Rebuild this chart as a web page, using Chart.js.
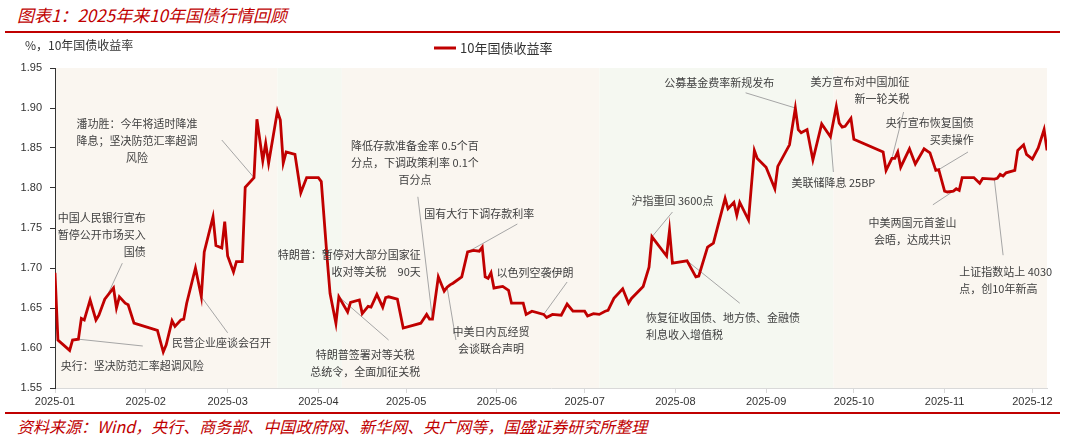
<!DOCTYPE html>
<html>
<head>
<meta charset="utf-8">
<script src="https://cdn.jsdelivr.net/npm/chart.js@4.4.1/dist/chart.umd.min.js"></script>
<style>
    body { margin: 0; background: #fff; width: 1065px; height: 439px; overflow: hidden; position: relative; font-family: "Noto Sans CJK SC", sans-serif; }
    .title { position: absolute; left: 17px; top: 2px; font-size: 17px; font-style: italic; color: #C00000; }
    .rule { position: absolute; left: 5px; width: 1055px; height: 2px; background: #C00000; }
    .source { position: absolute; left: 17px; top: 414px; font-size: 16px; font-style: italic; color: #C00000; }
    .chart-box { position: absolute; left: 0; top: 34px; width: 1065px; height: 376px; }
</style>
</head>
<body>
<div class="title">图表1：2025年来10年国债行情回顾</div>
<div class="rule" style="top: 31px;"></div>
<div class="chart-box"><canvas id="yieldChart"></canvas></div>
<div class="rule" style="top: 412px;"></div>
<div class="source">资料来源：Wind，央行、商务部、中国政府网、新华网、央广网等，国盛证券研究所整理</div>

<script>
// 10年国债收益率 (%)
const dates = [
    '2025-01-01', '2025-01-02', '2025-01-06', '2025-01-07', '2025-01-09', '2025-01-10', '2025-01-11', '2025-01-13',
    '2025-01-15', '2025-01-16', '2025-01-18', '2025-01-21', '2025-01-22', '2025-01-23', '2025-01-25', '2025-01-26',
    '2025-01-28', '2025-02-05', '2025-02-07', '2025-02-08', '2025-02-10', '2025-02-11', '2025-02-13', '2025-02-14',
    '2025-02-15', '2025-02-18', '2025-02-20', '2025-02-21', '2025-02-24', '2025-02-25', '2025-02-27', '2025-02-28',
    '2025-03-01', '2025-03-03', '2025-03-04', '2025-03-06', '2025-03-07', '2025-03-10', '2025-03-11', '2025-03-13',
    '2025-03-14', '2025-03-15', '2025-03-18', '2025-03-19', '2025-03-20', '2025-03-21', '2025-03-24', '2025-03-26',
    '2025-03-28', '2025-04-01', '2025-04-02', '2025-04-04', '2025-04-05', '2025-04-07', '2025-04-08', '2025-04-11',
    '2025-04-12', '2025-04-15', '2025-04-16', '2025-04-18', '2025-04-19', '2025-04-21', '2025-04-23', '2025-04-24',
    '2025-04-25', '2025-04-28', '2025-04-30', '2025-05-06', '2025-05-08', '2025-05-09', '2025-05-10', '2025-05-12',
    '2025-05-14', '2025-05-15', '2025-05-16', '2025-05-17', '2025-05-20', '2025-05-22', '2025-05-24', '2025-05-26',
    '2025-05-27', '2025-05-28', '2025-05-29', '2025-05-30', '2025-05-31', '2025-06-03', '2025-06-05', '2025-06-06',
    '2025-06-10', '2025-06-11', '2025-06-13', '2025-06-17', '2025-06-18', '2025-06-20', '2025-06-23', '2025-06-25',
    '2025-06-27', '2025-07-01', '2025-07-02', '2025-07-04', '2025-07-06', '2025-07-08', '2025-07-09', '2025-07-11',
    '2025-07-14', '2025-07-16', '2025-07-17', '2025-07-21', '2025-07-23', '2025-07-24', '2025-07-29', '2025-07-30',
    '2025-07-31', '2025-08-05', '2025-08-08', '2025-08-09', '2025-08-12', '2025-08-14', '2025-08-18', '2025-08-19',
    '2025-08-21', '2025-08-22', '2025-08-23', '2025-08-26', '2025-08-28', '2025-08-29', '2025-09-01', '2025-09-04',
    '2025-09-05', '2025-09-09', '2025-09-11', '2025-09-12', '2025-09-13', '2025-09-15', '2025-09-17', '2025-09-20',
    '2025-09-23', '2025-09-25', '2025-09-26', '2025-09-27', '2025-09-28', '2025-09-30', '2025-10-01', '2025-10-11',
    '2025-10-12', '2025-10-14', '2025-10-15', '2025-10-16', '2025-10-17', '2025-10-20', '2025-10-22', '2025-10-25',
    '2025-10-27', '2025-10-29', '2025-10-30', '2025-11-01', '2025-11-02', '2025-11-04', '2025-11-05', '2025-11-06',
    '2025-11-07', '2025-11-11', '2025-11-13', '2025-11-14', '2025-11-18', '2025-11-19', '2025-11-20', '2025-11-21',
    '2025-11-22', '2025-11-25', '2025-11-26', '2025-11-28', '2025-11-29', '2025-12-01', '2025-12-03', '2025-12-05',
    '2025-12-06'
];
const yields = [
    1.694, 1.610, 1.597, 1.610, 1.611, 1.637, 1.635, 1.660,
    1.635, 1.641, 1.661, 1.675, 1.650, 1.664, 1.656, 1.654,
    1.631, 1.622, 1.595, 1.604, 1.634, 1.627, 1.635, 1.636,
    1.656, 1.700, 1.664, 1.720, 1.764, 1.728, 1.725, 1.758,
    1.715, 1.695, 1.708, 1.708, 1.801, 1.813, 1.886, 1.834,
    1.856, 1.831, 1.896, 1.885, 1.831, 1.845, 1.842, 1.794,
    1.813, 1.813, 1.808, 1.712, 1.668, 1.631, 1.664, 1.645,
    1.657, 1.660, 1.643, 1.652, 1.651, 1.667, 1.651, 1.663,
    1.664, 1.661, 1.625, 1.631, 1.642, 1.636, 1.636, 1.689,
    1.671, 1.676, 1.679, 1.681, 1.689, 1.720, 1.722, 1.721,
    1.726, 1.689, 1.687, 1.694, 1.675, 1.677, 1.672, 1.656,
    1.656, 1.642, 1.646, 1.642, 1.638, 1.642, 1.641, 1.655,
    1.646, 1.646, 1.640, 1.643, 1.642, 1.646, 1.647, 1.662,
    1.674, 1.656, 1.662, 1.677, 1.701, 1.739, 1.715, 1.747,
    1.706, 1.709, 1.689, 1.690, 1.726, 1.731, 1.787, 1.774,
    1.782, 1.766, 1.782, 1.760, 1.847, 1.837, 1.826, 1.799,
    1.827, 1.854, 1.900, 1.873, 1.869, 1.873, 1.835, 1.880,
    1.864, 1.902, 1.881, 1.876, 1.877, 1.887, 1.861, 1.845,
    1.822, 1.837, 1.837, 1.845, 1.826, 1.849, 1.830, 1.849,
    1.844, 1.822, 1.823, 1.796, 1.795, 1.796, 1.799, 1.797,
    1.813, 1.813, 1.806, 1.812, 1.811, 1.812, 1.817, 1.815,
    1.819, 1.822, 1.847, 1.854, 1.842, 1.836, 1.850, 1.873,
    1.847
];

const monthTicks = ['2025-01-01', '2025-02-01', '2025-03-01', '2025-04-01', '2025-05-01', '2025-06-01',
    '2025-07-01', '2025-08-01', '2025-09-01', '2025-10-01', '2025-11-01', '2025-12-01'];
const tickLabels = ['2025-01', '2025-02', '2025-03', '2025-04', '2025-05', '2025-06',
    '2025-07', '2025-08', '2025-09', '2025-10', '2025-11', '2025-12'];
const yTicks = [1.55, 1.60, 1.65, 1.70, 1.75, 1.80, 1.85, 1.90, 1.95];

// shaded periods: each band starts at the previous edge
const bandEdges = ['2025-03-18', '2025-04-09', '2025-07-06', '2025-09-24'];
const bandColors = ['#FAF6F0', '#F5F8F1', '#FAF6F0', '#F5F8F1', '#FAF6F0'];

const axisStart = '2025-01-01';
const axisEnd = '2025-12-06';

// event notes, placed in data units (date, yield); leader runs from "from" to the series point at "to"
const notes = [
    { lines: ['潘功胜：今年将适时降准', '降息；坚决防范汇率超调', '风险'], at: ['2025-01-29', 1.880], align: 'center', from: ['2025-02-27', 1.860], to: '2025-03-10' },
    { lines: ['中国人民银行宣布', '暂停公开市场买入', '国债'], at: ['2025-02-01', 1.7625], align: 'right', from: ['2025-01-24', 1.706], to: '2025-01-15' },
    { lines: ['央行：坚决防范汇率超调风险'], at: ['2025-01-03', 1.5775], align: 'left', from: ['2025-01-31', 1.6025], to: '2025-01-09' },
    { lines: ['民营企业座谈会召开'], at: ['2025-02-10', 1.606], align: 'left', from: ['2025-03-01', 1.619], to: '2025-02-20' },
    { lines: ['特朗普：暂停对大部分国家征', '收对等关税　90天'], at: ['2025-05-06', 1.716], align: 'right' },
    { lines: ['特朗普签署对等关税', '总统令，全面加征关税'], at: ['2025-04-17', 1.591], align: 'center', from: ['2025-04-25', 1.610], to: '2025-04-08' },
    { lines: ['降低存款准备金率 0.5个百', '分点，下调政策利率 0.1个', '百分点'], at: ['2025-05-04', 1.8525], align: 'center', from: ['2025-05-05', 1.789], to: '2025-05-10' },
    { lines: ['国有大行下调存款利率'], at: ['2025-05-26', 1.7675], align: 'center', from: ['2025-06-08', 1.755], to: '2025-05-22' },
    { lines: ['中美日内瓦经贸', '会谈联合声明'], at: ['2025-05-30', 1.620], align: 'center', from: ['2025-05-18', 1.610], to: '2025-05-15' },
    { lines: ['以色列空袭伊朗'], at: ['2025-06-14', 1.694], align: 'center', from: ['2025-06-25', 1.6825], to: '2025-06-17' },
    { lines: ['沪指重回 3600点'], at: ['2025-07-31', 1.784], align: 'center', from: ['2025-07-31', 1.770], to: '2025-07-24' },
    { lines: ['恢复征收国债、地方债、金融债', '利息收入增值税'], at: ['2025-07-22', 1.6375], align: 'left', from: ['2025-08-23', 1.656], to: '2025-08-05' },
    { lines: ['公募基金费率新规发布'], at: ['2025-08-16', 1.931], align: 'center', from: ['2025-08-25', 1.919], to: '2025-09-11' },
    { lines: ['美联储降息 25BP'], at: ['2025-09-24', 1.806], align: 'center', from: ['2025-09-24', 1.820], to: '2025-09-23' },
    { lines: ['美方宣布对中国加征', '新一轮关税'], at: ['2025-10-20', 1.9325], align: 'right', from: ['2025-10-18', 1.895], to: '2025-10-14' },
    { lines: ['中美两国元首釜山', '会晤，达成共识'], at: ['2025-10-21', 1.756], align: 'center', from: ['2025-10-28', 1.779], to: '2025-11-04' },
    { lines: ['央行宣布恢复国债', '买卖操作'], at: ['2025-11-11', 1.881], align: 'right', from: ['2025-11-09', 1.845], to: '2025-10-30' },
    { lines: ['上证指数站上 4030', '点，创10年新高'], at: ['2025-11-06', 1.695], align: 'left', from: ['2025-11-21', 1.716], to: '2025-11-18' }
];

const CJK = '"Noto Sans CJK SC", sans-serif';

function dayOf(s) {
    return (Date.parse(s) - Date.parse('2025-01-01')) / 86400000;
}

const overlay = {
    id: 'overlay',
    beforeDraw(chart) {
        const { ctx, chartArea: a, scales: { x } } = chart;
        const edges = [x.min, ...bandEdges.map(dayOf), x.max];
        ctx.save();
        for (let i = 0; i < edges.length - 1; i++) {
            const x0 = x.getPixelForValue(edges[i]);
            const x1 = x.getPixelForValue(edges[i + 1]);
            ctx.fillStyle = bandColors[i];
            ctx.fillRect(x0, a.top, x1 - x0, a.bottom - a.top);
        }
        ctx.restore();
    },
    beforeDatasetsDraw(chart) {
        const { ctx, scales: { x, y } } = chart;
        ctx.save();
        ctx.strokeStyle = '#A6A6A6';
        ctx.lineWidth = 1;
        notes.filter(n => n.from).forEach(n => {
            const target = yields[dates.indexOf(n.to)];
            ctx.beginPath();
            ctx.moveTo(x.getPixelForValue(dayOf(n.from[0])), y.getPixelForValue(n.from[1]));
            ctx.lineTo(x.getPixelForValue(dayOf(n.to)), y.getPixelForValue(target));
            ctx.stroke();
        });
        ctx.restore();
    },
    afterDatasetsDraw(chart) {
        const { ctx, chartArea: a, scales: { x, y } } = chart;
        ctx.save();
        ctx.font = '11px ' + CJK;
        ctx.fillStyle = '#404040';
        ctx.textBaseline = 'middle';
        notes.forEach(n => {
            const px = x.getPixelForValue(dayOf(n.at[0]));
            const py = y.getPixelForValue(n.at[1]);
            ctx.textAlign = n.align;
            n.lines.forEach((line, i) => ctx.fillText(line, px, py + i * 17));
        });

        // unit label and legend above the plot
        ctx.textAlign = 'left';
        ctx.font = '12px ' + CJK;
        ctx.fillStyle = '#333';
        ctx.fillText('%，10年国债收益率', 25, a.top - 23);

        const ds = chart.data.datasets[0];
        ctx.strokeStyle = ds.borderColor;
        ctx.lineWidth = 3;
        ctx.beginPath();
        ctx.moveTo(434, a.top - 20);
        ctx.lineTo(456, a.top - 20);
        ctx.stroke();
        ctx.font = '13px ' + CJK;
        ctx.fillText(ds.label, 460, a.top - 20);
        ctx.restore();
    }
};

document.addEventListener('DOMContentLoaded', function() {
    const ctx = document.getElementById('yieldChart').getContext('2d');
    new Chart(ctx, {
        type: 'line',
        data: {
            datasets: [{
                label: '10年国债收益率',
                data: dates.map((d, i) => ({ x: dayOf(d), y: yields[i] })),
                borderColor: '#C00000',
                borderWidth: 2.8,
                pointRadius: 0,
                tension: 0,
                fill: false
            }]
        },
        options: {
            responsive: true,
            maintainAspectRatio: false,
            animation: false,
            layout: { padding: { top: 34, right: 18, left: 0, bottom: 0 } },
            plugins: {
                legend: { display: false },
                tooltip: { enabled: false }
            },
            scales: {
                x: {
                    type: 'linear',
                    min: dayOf(axisStart),
                    max: dayOf(axisEnd),
                    afterBuildTicks: scale => {
                        scale.ticks = monthTicks.map(m => ({ value: dayOf(m) }));
                    },
                    afterFit: scale => { scale.height = 22; },
                    grid: { drawOnChartArea: false, tickLength: 5, color: '#D9D9D9' },
                    border: { color: '#D9D9D9' },
                    ticks: {
                        autoSkip: false,
                        maxRotation: 0,
                        padding: 2,
                        color: '#333',
                        font: { family: 'Liberation Sans', size: 11 },
                        callback: value => tickLabels[monthTicks.findIndex(m => dayOf(m) === value)]
                    }
                },
                y: {
                    min: yTicks[0],
                    max: yTicks[yTicks.length - 1],
                    afterBuildTicks: scale => {
                        scale.ticks = yTicks.map(v => ({ value: v }));
                    },
                    afterFit: scale => { scale.width = 55; },
                    grid: { drawOnChartArea: false, tickLength: 5, color: '#333' },
                    border: { color: '#333' },
                    ticks: {
                        padding: 8,
                        color: '#333',
                        font: { family: 'Liberation Sans', size: 11 },
                        callback: value => value.toFixed(2)
                    }
                }
            }
        },
        plugins: [overlay]
    });
});
</script>
</body>
</html>
